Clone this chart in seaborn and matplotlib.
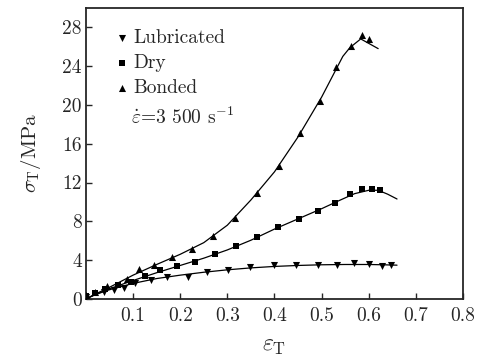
import numpy as np
import pandas as pd
import matplotlib
matplotlib.use("Agg")
import matplotlib.pyplot as plt
import seaborn as sns

# ---- measured points ----
lub_x = [0.0, 0.038, 0.060, 0.081, 0.104, 0.138, 0.173, 0.216, 0.257, 0.302, 0.349,
         0.398, 0.446, 0.492, 0.533, 0.568, 0.601, 0.628, 0.648]
lub_y = [0.2, 0.70, 0.93, 1.10, 1.60, 1.96, 2.24, 2.24, 2.75, 3.03, 3.25,
         3.50, 3.50, 3.45, 3.50, 3.75, 3.58, 3.40, 3.45]

dry_x = [0.0, 0.020, 0.040, 0.067, 0.096, 0.125, 0.157, 0.194, 0.232, 0.274, 0.318,
         0.362, 0.408, 0.452, 0.492, 0.528, 0.560, 0.586, 0.606, 0.623]
dry_y = [0.3, 0.60, 1.00, 1.45, 1.70, 2.40, 3.00, 3.40, 3.80, 4.60, 5.48,
         6.37, 7.40, 8.26, 9.10, 9.90, 10.85, 11.30, 11.30, 11.25]

bon_x = [0.0, 0.020, 0.045, 0.088, 0.113, 0.145, 0.182, 0.224, 0.269, 0.316,
         0.362, 0.410, 0.455, 0.496, 0.531, 0.563, 0.586, 0.601]
bon_y = [0.4, 0.70, 1.34, 2.10, 3.07, 3.45, 4.30, 5.10, 6.50, 8.35,
         10.90, 13.70, 17.10, 20.45, 23.90, 26.10, 27.20, 26.80]

# ---- fitted curves ----
lub_cx = [0.0, 0.02, 0.05, 0.10, 0.15, 0.20, 0.25, 0.30, 0.35, 0.40, 0.45, 0.50, 0.55, 0.60, 0.63, 0.66]
lub_cy = [0.0, 0.45, 0.95, 1.60, 2.10, 2.45, 2.75, 3.00, 3.20, 3.35, 3.45, 3.52, 3.55, 3.55, 3.52, 3.48]

dry_cx = [0.0, 0.02, 0.05, 0.10, 0.15, 0.20, 0.25, 0.30, 0.35, 0.40, 0.45, 0.50, 0.54, 0.57, 0.60, 0.62, 0.64, 0.66]
dry_cy = [0.0, 0.45, 1.05, 1.90, 2.70, 3.45, 4.20, 5.05, 6.05, 7.20, 8.25, 9.30, 10.20, 10.85, 11.20, 11.20, 10.80, 10.30]

bon_cx = [0.0, 0.02, 0.05, 0.10, 0.15, 0.20, 0.25, 0.30, 0.35, 0.40, 0.45, 0.50, 0.545, 0.56, 0.583, 0.62]
bon_cy = [0.0, 0.50, 1.20, 2.45, 3.55, 4.60, 5.80, 7.60, 10.20, 13.10, 16.70, 20.80, 25.00, 25.90, 26.80, 25.80]

series = ["Lubricated", "Dry", "Bonded"]
markers = {"Lubricated": "v", "Dry": "s", "Bonded": "^"}

x_ticks = [0.1, 0.2, 0.3, 0.4, 0.5, 0.6, 0.7, 0.8]
y_ticks = [0, 4, 8, 12, 16, 20, 24, 28]

pts = pd.concat([
    pd.DataFrame({"x": lub_x, "y": lub_y, "s": "Lubricated"}),
    pd.DataFrame({"x": dry_x, "y": dry_y, "s": "Dry"}),
    pd.DataFrame({"x": bon_x, "y": bon_y, "s": "Bonded"}),
], ignore_index=True)
curves = [(lub_cx, lub_cy), (dry_cx, dry_cy), (bon_cx, bon_cy)]

sns.set_style("ticks")
plt.rcParams["font.family"] = ["cmr10", "DejaVu Serif"]
plt.rcParams["mathtext.fontset"] = "cm"
plt.rcParams["axes.unicode_minus"] = False

fig = plt.figure(figsize=(4.91, 3.58), dpi=100)
ax = fig.add_axes([0.175, 0.165, 0.768, 0.813])

for cx, cy in curves:
    sns.lineplot(x=cx, y=cy, ax=ax, color="black", linewidth=0.9, sort=False, legend=False)

for name in series:
    d = pts[pts["s"] == name]
    sns.scatterplot(data=d, x="x", y="y", ax=ax, marker=markers[name], color="black",
                    s=26 if name != "Dry" else 15, linewidth=0, label=name, zorder=3)

ax.set_xlim(0, 0.8)
ax.set_ylim(0, 30)
ax.set_xticks(x_ticks)
ax.set_xticklabels([f"{t:.1f}" for t in x_ticks])
ax.set_yticks(y_ticks)
ax.set_yticklabels([str(t) for t in y_ticks])
ax.tick_params(direction="in", length=4.5, width=1.0, labelsize=14, pad=3)
ax.tick_params(axis="x", pad=6)
for sp in ax.spines.values():
    sp.set_visible(True)
    sp.set_linewidth(1.3)

ax.set_xlabel(r"$\varepsilon_{\mathrm{T}}$", fontsize=17, labelpad=7)
ax.set_ylabel(r"$\sigma_{\mathrm{T}}$/MPa", fontsize=15, labelpad=14)

leg = ax.legend(loc="upper left", bbox_to_anchor=(0.055, 0.955), frameon=False,
                fontsize=14, handletextpad=0.15, handlelength=0.8, labelspacing=0.38,
                borderaxespad=0.0)
ax.text(0.12, 0.625, r"$\dot{\varepsilon}$=3 500 s$^{-1}$", transform=ax.transAxes,
        fontsize=14, ha="left", va="center")

fig.savefig("out.png", dpi=100)
